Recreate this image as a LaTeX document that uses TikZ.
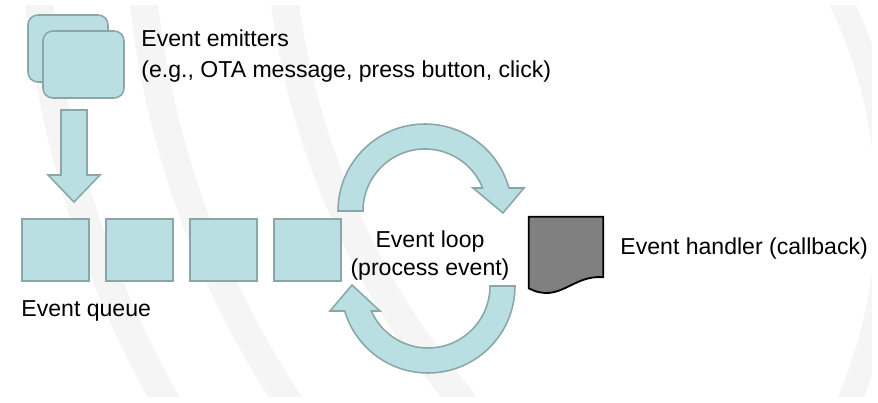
\documentclass[tikz,border=0pt]{standalone}
\usepackage{fontspec}
\setmainfont{Liberation Sans}
\definecolor{loopfill}{HTML}{B9DFE2}
\definecolor{loopline}{HTML}{8AA6A7}
\definecolor{handlergray}{HTML}{808080}
\definecolor{swoosh}{HTML}{F5F5F5}
\usetikzlibrary{calc}
\tikzset{
    emitterbox/.style={
        draw=loopline,
        fill=loopfill,
        rounded corners=7pt,
        line width=1.1pt,
        minimum width=2.0cm,
        minimum height=1.675cm,
        inner sep=0pt
    },
    queueslot/.style={
        draw=loopline,
        fill=loopfill,
        line width=1.1pt,
        minimum width=1.675cm,
        minimum height=1.55cm,
        inner sep=0pt
    },
    handlerbox/.style={
        minimum width=1.85cm,
        minimum height=1.775cm,
        inner sep=0pt
    },
    handlerdoc/.style={
        draw=black,
        fill=handlergray,
        line width=1.3pt
    },
    blockarrow/.style={
        draw=loopline,
        fill=loopfill,
        line width=1.1pt
    },
    labeltext/.style={
        inner sep=0pt,
        align=left,
        font=\fontsize{16.4}{21.8}\selectfont
    },
    looptext/.style={
        labeltext,
        align=center,
        font=\fontsize{16.4}{19.8}\selectfont
    },
    swooshband/.style={
        draw=swoosh,
        line width=0.7cm
    }
}

\begin{document}
\begin{tikzpicture}
        \useasboundingbox (0,0) rectangle (21.95,10.05);
        % faint background swooshes
        \begin{scope}
            \clip (0.15,0.15) rectangle (21.8,9.9);
            \draw[swooshband] (26.25,12.55) circle[radius=25.4];
            \draw[swooshband] (26.25,12.55) circle[radius=22.8];
            \draw[swooshband] (26.25,12.55) circle[radius=19.3];
            \draw[swooshband, line width=0.6cm] (10,4.8) circle[radius=12.2];
        \end{scope}

        \node[emitterbox] (emitterback) at (1.70,8.8375) {};
        \node[emitterbox, minimum width=2.025cm] (emitterfront) at (2.0875,8.4375) {};
        \node[labeltext, anchor=west] (emitterlabel) at (3.53,8.645)
            {Event emitters\\(e.g., OTA message, press button, click)};

        \node[queueslot] (slotA) at (1.39,3.8) {};
        \node[queueslot] (slotB) at (3.49,3.8) {};
        \node[queueslot] (slotC) at (5.59,3.8) {};
        \node[queueslot] (slotD) at (7.69,3.8) {};
        \node[labeltext, anchor=base west] (queuelabel) at (0.53,2.1325) {Event queue};

        \node[looptext] (looplabel) at (10.75,3.6675) {Event loop\\(process event)};

        \node[handlerbox] (handler) at (14.15,3.7375) {};
        \draw[handlerdoc] (handler.north west) -- (handler.north east)
            -- ([yshift=0.275cm]handler.south east)
            .. controls +(-0.775,0.075) and +(0.775,-0.4) .. (handler.south west) -- cycle;
        \node[labeltext, anchor=base west] (handlerlabel) at (15.505,3.6925)
            {Event handler (callback)};

        % emitters feed the queue
        \coordinate (feedtop) at (1.85,7.3);
        \coordinate (feedtip) at (1.85,5.0);
        \draw[blockarrow] ($(feedtop)+(-0.325,0)$) -- ($(feedtop)+(0.325,0)$)
            -- ($(feedtip)+(0.325,0.675)$) -- ($(feedtip)+(0.65,0.675)$) -- (feedtip)
            -- ($(feedtip)+(-0.65,0.675)$) -- ($(feedtip)+(-0.325,0.675)$) -- cycle;

        % the loop
        \coordinate (dispatch) at (10.625,4.775);
        \coordinate (retrieve) at (10.7,2.9);
        \draw[blockarrow] ($(dispatch)+(-2.175,0)$) arc[start angle=180, end angle=15.33, radius=2.175]
            -- ($(dispatch)+(2.475,0.575)$) -- ($(dispatch)+(1.95,-0.05)$)
            -- ($(dispatch)+(1.2,0.575)$) -- ($(dispatch)+(1.439,0.575)$)
            arc[start angle=21.78, end angle=180, radius=1.55] -- cycle;
        \draw[blockarrow] ($(retrieve)+(2.175,0)$) arc[start angle=0, end angle=-163.3, radius=2.175]
            -- ($(retrieve)+(-2.45,-0.625)$) -- ($(retrieve)+(-1.9,0.025)$)
            -- ($(retrieve)+(-1.2,-0.625)$) -- ($(retrieve)+(-1.418,-0.625)$)
            arc[start angle=-156.2, end angle=0, radius=1.55] -- cycle;
    \end{tikzpicture}
\end{document}
